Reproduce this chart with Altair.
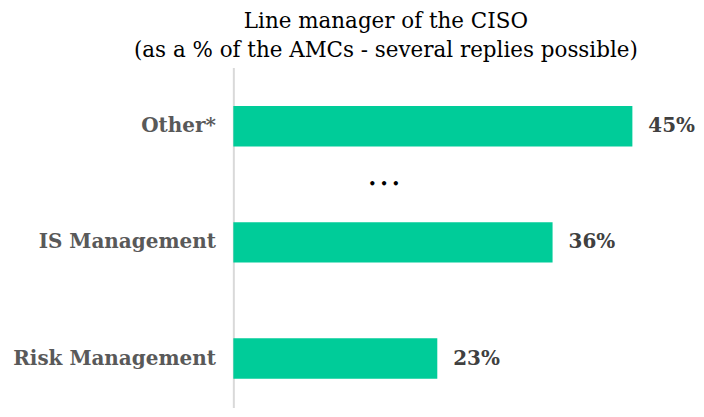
import altair as alt
import pandas as pd

categories = ["Other*", "IS Management", "Risk Management"]
values = [45, 36, 23]
labels = ["45%", "36%", "23%"]

df = pd.DataFrame({"cat": categories, "val": values, "lab": labels})
dots = pd.DataFrame({"cat": ["Other*"], "val": [17.0], "txt": ["• • •"]})

FONT = "DejaVu Serif"

y_enc = alt.Y("cat:N", sort=categories, title=None,
              scale=alt.Scale(paddingInner=0.652, paddingOuter=0.29, align=0.574),
              axis=alt.Axis(labelFont=FONT, labelFontSize=20, labelFontWeight="bold",
                            labelColor="#595959", ticks=False, labelPadding=18,
                            labelLimit=300,
                            domainColor="#d9d9d9", domainWidth=2, grid=False))
x_scale = alt.Scale(domain=[0, 51.5], nice=False)

bars = alt.Chart(df).mark_bar(color="#00cc99").encode(
    x=alt.X("val:Q", scale=x_scale, axis=None),
    y=y_enc,
)
text = alt.Chart(df).mark_text(align="left", dx=16, font=FONT, fontSize=20,
                               fontWeight="bold", color="#404040").encode(
    x=alt.X("val:Q", scale=x_scale, axis=None),
    y=alt.Y("cat:N", sort=categories),
    text="lab:N",
)
ell = alt.Chart(dots).mark_text(align="center", dy=58, font="DejaVu Sans",
                                fontSize=12, fontWeight="bold", color="#000000").encode(
    x=alt.X("val:Q", scale=x_scale, axis=None),
    y=alt.Y("cat:N", sort=categories),
    text="txt:N",
)

chart = alt.layer(bars, text, ell).properties(
    width=458, height=341,
    title=alt.TitleParams(
        text=["Line manager of the CISO", "(as a % of the AMCs - several replies possible)"],
        font=FONT, fontSize=21.5, fontWeight="normal", color="#000000",
        anchor="middle", dx=-76, offset=6, lineHeight=29,
    ),
    padding={"left": 4, "top": 2, "right": 0, "bottom": 0},
).configure_view(stroke=None)

chart.save("out.html", embed_options={"renderer": "svg", "actions": False})
